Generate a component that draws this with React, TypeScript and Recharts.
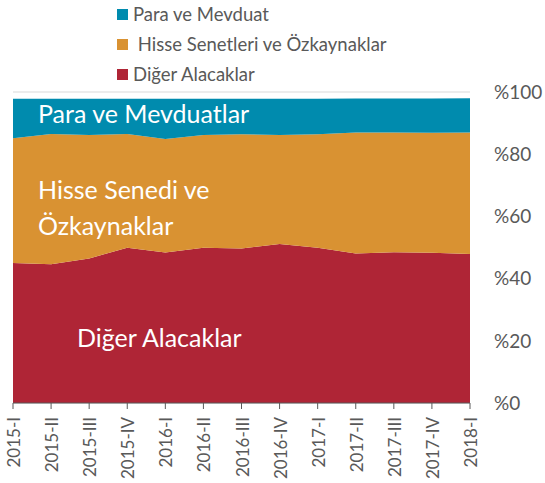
import { Area, AreaChart, CartesianGrid, XAxis, YAxis } from "recharts";

const quarters = ["2015-I", "2015-II", "2015-III", "2015-IV", "2016-I", "2016-II", "2016-III", "2016-IV", "2017-I", "2017-II", "2017-III", "2017-IV", "2018-I"];
const digerAlacaklar = [45.0, 44.6, 46.5, 49.9, 48.4, 49.9, 49.7, 51.1, 49.9, 48.1, 48.5, 48.3, 47.9];
const hisseSenetleri = [40.1, 41.9, 39.7, 36.6, 36.5, 36.3, 36.7, 35.1, 36.5, 38.9, 38.5, 38.6, 39.1];
const paraMevduat = [12.7, 11.3, 11.6, 11.3, 12.9, 11.6, 11.4, 11.6, 11.4, 10.9, 10.9, 11.0, 11.0];
const yTicks = [0, 20, 40, 60, 80, 100];

const RED = "#af2536";
const ORANGE = "#d99232";
const TEAL = "#008bae";
const FONT = "Lato, 'Open Sans', sans-serif";

const legendItems = [
    { label: "Para ve Mevduat", color: TEAL },
    { label: "\u00a0Hisse Senetleri ve Özkaynaklar", color: ORANGE },
    { label: "Diğer Alacaklar", color: RED },
];

const chartData = quarters.map((q, i) => ({
    q,
    diger: digerAlacaklar[i],
    hisse: hisseSenetleri[i],
    para: paraMevduat[i],
}));

export default function App() {
    return (
        <div style={{ position: "absolute", left: 0, top: 0, width: 545, height: 483, background: "#fff", fontFamily: FONT }}>
            <div style={{ position: "absolute", left: 117, top: -1 }}>
                {legendItems.map((item) => (
                    <div key={item.label} style={{ display: "flex", alignItems: "center", height: 30, fontSize: 18.5, color: "#595959" }}>
                        <span style={{ width: 11, height: 11, background: item.color, marginRight: 5, display: "inline-block" }} />
                        <span style={{ whiteSpace: "pre" }}>{item.label}</span>
                    </div>
                ))}
            </div>
            <AreaChart width={545} height={483} data={chartData} margin={{ top: 92, right: 0, bottom: 0, left: 13 }}>
                <CartesianGrid vertical={false} stroke="#d9d9d9" />
                <XAxis
                    dataKey="q"
                    interval={0}
                    height={80}
                    stroke="#595959"
                    tickLine={{ stroke: "#595959" }}
                    tickSize={6}
                    angle={-90}
                    textAnchor="end"
                    dy={6}
                    dx={-5}
                    tick={{ fill: "#595959", fontSize: 17, fontFamily: FONT }}
                />
                <YAxis
                    orientation="right"
                    domain={[0, 100]}
                    ticks={yTicks}
                    width={75}
                    axisLine={false}
                    tickLine={false}
                    tickFormatter={(v) => `%${v}`}
                    tick={{ fill: "#595959", fontSize: 19, fontFamily: FONT, textAnchor: "start" }}
                    dx={16}
                />
                <Area type="linear" dataKey="diger" stackId="1" stroke="none" fill={RED} fillOpacity={1} isAnimationActive={false} />
                <Area type="linear" dataKey="hisse" stackId="1" stroke="none" fill={ORANGE} fillOpacity={1} isAnimationActive={false} />
                <Area type="linear" dataKey="para" stackId="1" stroke="none" fill={TEAL} fillOpacity={1} isAnimationActive={false} />
            </AreaChart>
            <div style={{ position: "absolute", left: 38, top: 96, color: "#fff", fontSize: 25, lineHeight: "34px" }}>Para ve Mevduatlar</div>
            <div style={{ position: "absolute", left: 38, top: 171, color: "#fff", fontSize: 25, lineHeight: "36px" }}>
                Hisse Senedi ve
                <br />
                Özkaynaklar
            </div>
            <div style={{ position: "absolute", left: 77, top: 320, color: "#fff", fontSize: 25, lineHeight: "34px" }}>Diğer Alacaklar</div>
        </div>
    );
}
